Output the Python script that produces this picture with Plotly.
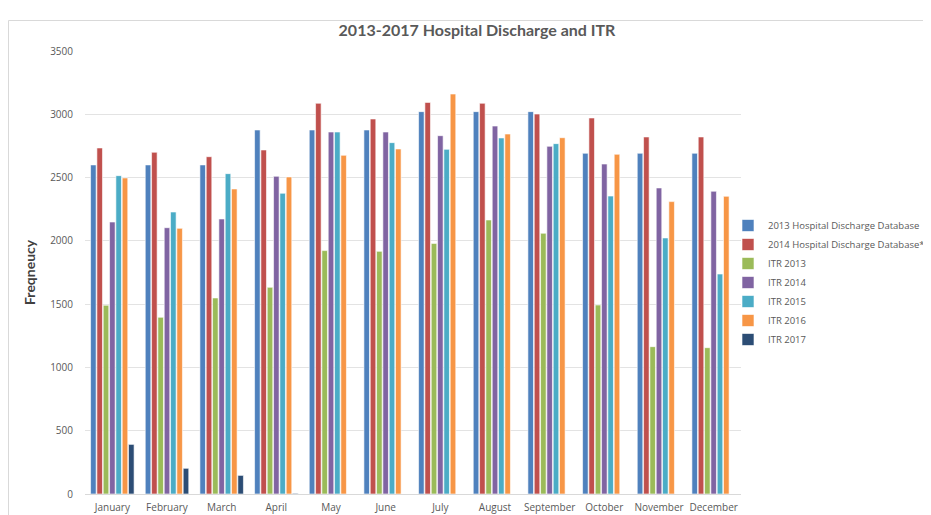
import plotly.graph_objects as go

months = ["January", "February", "March", "April", "May", "June", "July",
          "August", "September", "October", "November", "December"]

hdd_2013 = [2600, 2600, 2600, 2876, 2876, 2876, 3021, 3021, 3021, 2692, 2692, 2692]
hdd_2014 = [2734, 2700, 2665, 2718, 3087, 2963, 3094, 3087, 3002, 2971, 2821, 2821]
itr_2013 = [1491, 1396, 1549, 1633, 1923, 1917, 1980, 2165, 2060, 1493, 1164, 1156]
itr_2014 = [2149, 2104, 2173, 2510, 2860, 2860, 2831, 2907, 2747, 2607, 2418, 2392]
itr_2015 = [2515, 2228, 2531, 2376, 2860, 2776, 2723, 2813, 2768, 2354, 2023, 1738]
itr_2016 = [2497, 2099, 2410, 2505, 2676, 2726, 3160, 2844, 2815, 2684, 2310, 2352]
itr_2017 = [392, 203, 147, 5, None, None, None, None, None, None, None, None]

series_names = ["2013 Hospital Discharge Database", "2014 Hospital Discharge Database*",
                "ITR 2013", "ITR 2014", "ITR 2015", "ITR 2016", "ITR 2017"]
series_values = [hdd_2013, hdd_2014, itr_2013, itr_2014, itr_2015, itr_2016, itr_2017]
colors = ["#4F81BD", "#C0504D", "#9BBB59", "#8064A2", "#4BACC6", "#F79646", "#2C4D75"]

fig = go.Figure()
for name, vals, col in zip(series_names, series_values, colors):
    fig.add_trace(go.Bar(x=months, y=vals, name=name,
                         marker=dict(color=col, line=dict(color="white", width=0.6))))

# The page body adds an 8px margin, so figure coords = screen coords - 8
OFF = 8
W, H = 931 - OFF, 515 - OFF
L, R, T, B = 85 - OFF, 741 - OFF, 51 - OFF, 494 - OFF

def px(x):
    return (x - OFF - L) / (R - L)

def py(y):
    return (B - (y - OFF)) / (B - T)

fig.update_layout(
    width=W, height=H,
    margin=dict(l=L, r=W - R, t=T, b=H - B, autoexpand=False),
    paper_bgcolor="white", plot_bgcolor="white",
    barmode="group", bargap=0.19, bargroupgap=0.12,
    font=dict(family="Open Sans", color="#595959"),
    title=dict(text="<b>2013-2017 Hospital Discharge and ITR</b>",
               x=(477 - OFF) / W, xanchor="center", y=1 - (30 - OFF) / H,
               yanchor="middle",
               font=dict(family="Lato", size=16, color="#595959")),
    legend=dict(x=px(728), y=py(211), xanchor="left", yanchor="top",
                font=dict(size=9.5, color="#595959"), tracegroupgap=0,
                itemwidth=30, bgcolor="rgba(0,0,0,0)"),
    xaxis=dict(showgrid=False, showline=False, ticks="",
               tickfont=dict(size=10, color="#595959"), ticklabelstandoff=6),
    yaxis=dict(range=[0, 3500], dtick=500, showgrid=True, gridcolor="#E3E3E3",
               gridwidth=1, zeroline=True, zerolinecolor="#D9D9D9", zerolinewidth=1,
               showline=False, ticks="", tickfont=dict(size=10, color="#595959"),
               ticklabelstandoff=11),
    annotations=[dict(text="<b>Freqneucy</b>", x=px(29), y=py(272), xref="paper",
                      yref="paper", textangle=-90, showarrow=False,
                      xanchor="center", yanchor="middle",
                      font=dict(family="Lato", size=14, color="#404040"))],
    shapes=[dict(type="rect", xref="paper", yref="paper",
                 x0=px(8.5), x1=px(960), y0=py(560), y1=py(20.5),
                 line=dict(color="#D9D9D9", width=1), fillcolor="rgba(0,0,0,0)",
                 layer="below")],
)

fig.write_html("out.html")
